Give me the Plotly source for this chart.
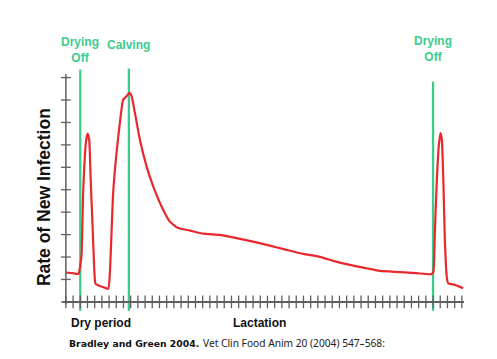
import plotly.graph_objects as go

# Red curve: rate of new infection (x in weeks-like tick units, y in axis-tick units)
curve_x = [0, 0.83, 1.74, 2.01, 2.18, 2.40, 2.78, 3.01, 3.24, 3.43, 3.71, 3.93, 4.13, 4.72, 5.42, 5.88,
           6.11, 6.57, 7.04, 7.60, 7.96, 8.43, 8.82, 9.13, 9.58, 10.28, 11.21, 12.13, 13.51, 14.44,
           15.60, 17.22, 19.07, 21.39, 23.71, 26.01, 28.33, 30.65, 32.96, 35.28, 37.13, 39.44, 41.76,
           43.61, 46.39, 48.71, 50.79, 51.04, 51.25, 51.53, 51.81, 52.04, 52.22, 52.43, 52.64, 52.92,
           53.10, 54.03, 55.18]
curve_y = [1.31, 1.29, 1.25, 1.65, 2.10, 4.87, 7.10, 7.50, 7.23, 5.58, 3.35, 1.56, 0.80, 0.71, 0.63, 0.58,
           1.29, 4.87, 6.65, 8.26, 9.02, 9.17, 9.32, 9.17, 8.44, 7.23, 6.04, 5.15, 4.11, 3.58,
           3.29, 3.18, 3.04, 2.99, 2.84, 2.69, 2.51, 2.32, 2.14, 2.01, 1.83, 1.65, 1.50,
           1.38, 1.33, 1.28, 1.24, 1.34, 3.08, 5.45, 7.01, 7.53, 7.23, 5.45, 2.77, 1.07,
           0.83, 0.76, 0.61]

# Event markers (green vertical lines)
event_x = [2, 8.75, 51]
event_labels = ["Drying<br>Off", "Calving", "Drying<br>Off"]
event_top = [10.36, 10.4, 9.82]
event_label_y = [1.054, 1.072, 1.055]

# Axis ticks
x_ticks = list(range(0, 56))
y_ticks = list(range(0, 11))

GREEN = "#3ccd8c"
RED = "#e8282c"
GRAY = "#5f5f5f"
FONT = "Liberation Sans, Arial, sans-serif"

fig = go.Figure()

fig.add_trace(go.Scatter(x=curve_x, y=curve_y, mode="lines",
                         line=dict(color=RED, width=2.2, shape="spline", smoothing=0.5),
                         hoverinfo="skip", showlegend=False))

fig.add_trace(go.Scatter(x=x_ticks, y=[0] * len(x_ticks), mode="markers",
                         marker=dict(symbol="line-ns", size=9, line=dict(width=1.3, color=GRAY)),
                         cliponaxis=False, hoverinfo="skip", showlegend=False))
fig.add_trace(go.Scatter(x=[0] * len(y_ticks), y=y_ticks, mode="markers",
                         marker=dict(symbol="line-ew", size=7, line=dict(width=1.3, color=GRAY)),
                         cliponaxis=False, hoverinfo="skip", showlegend=False))

shapes = [dict(type="line", xref="x", yref="y", x0=0, x1=0, y0=-0.1, y1=10.15,
               line=dict(color=GRAY, width=1.5), layer="above")]
for ex, et in zip(event_x, event_top):
    shapes.append(dict(type="line", xref="x", yref="y", x0=ex, x1=ex, y0=-0.4, y1=et,
                       line=dict(color=GREEN, width=2.3), layer="below"))

annotations = []
for ex, lab, ly in zip(event_x, event_labels, event_label_y):
    annotations.append(dict(x=ex, y=ly, xref="x", yref="paper", text="<b>" + lab + "</b>",
                            showarrow=False, xanchor="center", yanchor="middle",
                            font=dict(family=FONT, size=12, color=GREEN)))

annotations += [
    dict(x=-0.047, y=0.462, xref="paper", yref="paper", text="<b>Rate of New Infection</b>",
         textangle=-90, showarrow=False, xanchor="center", yanchor="middle",
         font=dict(family=FONT, size=17.5, color="#111111")),
    dict(x=0.095, y=-0.044, xref="paper", yref="paper", text="<b>Dry period</b>",
         showarrow=False, xanchor="center", yanchor="middle",
         font=dict(family=FONT, size=12, color="#111111")),
    dict(x=0.489, y=-0.044, xref="paper", yref="paper", text="<b>Lactation</b>",
         showarrow=False, xanchor="center", yanchor="middle",
         font=dict(family=FONT, size=12, color="#111111")),
    dict(x=0.01, y=-0.126, xref="paper", yref="paper", text="<b>Bradley and Green 2004.</b>",
         showarrow=False, xanchor="left", yanchor="middle",
         font=dict(family="DejaVu Sans, sans-serif", size=9.3, color="#111111")),
    dict(x=0.345, y=-0.126, xref="paper", yref="paper", text="Vet Clin Food Anim 20 (2004) 547–568:",
         showarrow=False, xanchor="left", yanchor="middle",
         font=dict(family="Noto Sans, sans-serif", size=10.2, color="#222222")),
]

# The page body has an 8px default margin, so the figure is 8px smaller and margins shifted.
fig.update_layout(
    width=489, height=351,
    margin=dict(l=55, r=33, t=55, b=47),
    paper_bgcolor="white", plot_bgcolor="white",
    showlegend=False,
    xaxis=dict(range=[-0.4, 55.3], showgrid=False, zeroline=False, showline=False,
               showticklabels=False, ticks="", fixedrange=True),
    yaxis=dict(range=[-0.45, 10.65], showgrid=False, zeroline=True, zerolinecolor=GRAY,
               zerolinewidth=1.5, showline=False, showticklabels=False, ticks="", fixedrange=True),
    shapes=shapes,
    annotations=annotations,
)

fig.write_html("out.html")
